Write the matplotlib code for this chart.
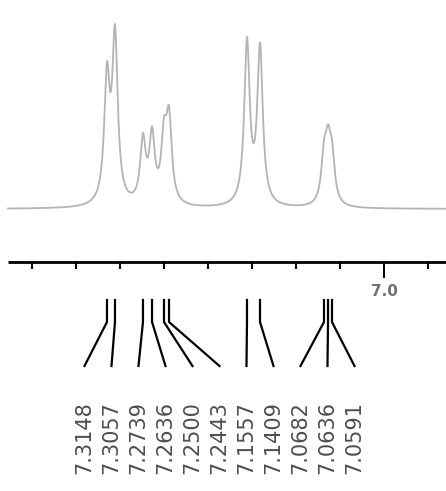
import matplotlib
matplotlib.use('Agg')
import matplotlib.pyplot as plt
import numpy as np

# peak list (ppm) and line intensities
peak_ppm = [7.3148, 7.3057, 7.2739, 7.2636, 7.2500, 7.2443,
            7.1557, 7.1409, 7.0682, 7.0636, 7.0591]
peak_int = [122, 165, 62, 66, 60, 80, 162, 156, 42, 50, 42]
peak_labels = ['%.4f' % p for p in peak_ppm]

# axis ticks (ppm) and the only labelled one
tick_ppm = [7.40, 7.35, 7.30, 7.25, 7.20, 7.15, 7.10, 7.05, 7.00, 6.95]
major_tick = 7.0

W, H = 446, 491
k = 0.05 / 44.0          # ppm per pixel
x_left = 7.0 + 384 * k
x_right = 7.0 - (W - 384) * k
hw = 3.3 * k             # lorentzian half width

fig = plt.figure(figsize=(W / 100, H / 100), dpi=100)
ax = fig.add_axes([0, 0, 1, 1])
ax.set_xlim(x_left, x_right)
ax.set_ylim(H, 0)
ax.axis('off')

# spectrum
base = 209
xs = np.linspace(7.0 + 376 * k, x_right, 3000)
ys = np.zeros_like(xs)
for p, a in zip(peak_ppm, peak_int):
    ys += a * hw**2 / ((xs - p)**2 + hw**2)
ax.plot(xs, base - ys, color='#b4b4b4', lw=1.3)

# ppm axis
ax.plot([7.0 + 376 * k, x_right], [262, 262], color='black', lw=2.0,
        solid_capstyle='butt')
for t in tick_ppm:
    y2 = 277 if t == major_tick else 268
    ax.plot([t, t], [262, y2], color='black', lw=1.4)
ax.text(major_tick, 292, '%.1f' % major_tick, ha='center', va='center',
        fontsize=11, color='#707070', fontweight='bold')

# peak label connectors
centre = (peak_ppm[0] + peak_ppm[-1]) / 2
n = len(peak_ppm)
lab_x = [centre + (n - 1) / 2 * 27 * k - i * 27 * k for i in range(n)]
for p, lx, s in zip(peak_ppm, lab_x, peak_labels):
    ax.plot([p, p, lx], [300, 322, 366], color='black', lw=1.6)
    ax.text(lx, 474, s, rotation=90, ha='center', va='bottom',
            fontsize=15, color='#4c4c58')

fig.savefig('out.png', dpi=100, facecolor='white')
